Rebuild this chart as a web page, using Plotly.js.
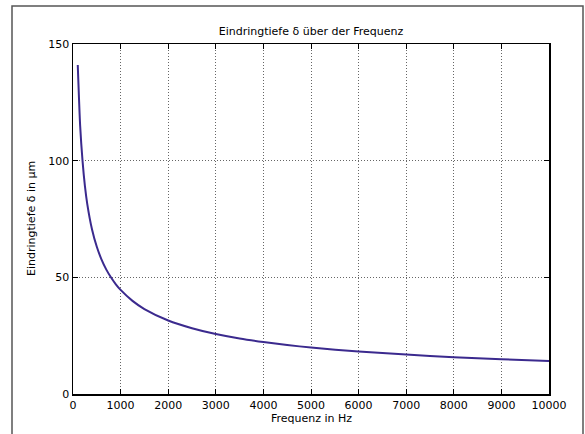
<!DOCTYPE html>
<html>
<head>
<meta charset="utf-8">
<script src="https://cdn.plot.ly/plotly-3.0.1.min.js"></script>
<style>html,body{margin:0;padding:0;background:#fff;}#chart{width:585px;height:434px;}</style>
</head>
<body>
<div id="chart"></div>
<script>
const freqHz = [100, 150, 200, 250, 300, 400, 500, 600, 700, 800, 900, 1000, 1250, 1500, 2000, 2500, 3000, 3500, 4000, 4500, 5000, 6000, 7000, 8000, 9000, 10000];
const depthUm = [141, 115, 100, 89.2, 81.4, 70.5, 63.1, 57.6, 53.3, 49.9, 47.0, 44.6, 39.9, 36.4, 31.5, 28.2, 25.7, 23.8, 22.3, 21.0, 19.9, 18.2, 16.9, 15.8, 14.9, 14.1];
const xTicks = [0, 1000, 2000, 3000, 4000, 5000, 6000, 7000, 8000, 9000, 10000];
const yTicks = [0, 50, 100, 150];

const W = 476, H = 350, L = 73, T = 44, B = 40;
const px = v => (v - L) / W;
const py = v => (434 - B - v) / H;
const FONT = 'DejaVu Sans, sans-serif';

const trace = {
  x: freqHz, y: depthUm, type: 'scatter', mode: 'lines',
  line: {color: '#3b2a8e', width: 2, shape: 'spline', smoothing: 0.6},
  hoverinfo: 'skip'
};
const axisCommon = {
  showline: true, linecolor: '#000', linewidth: 1.5, mirror: 'ticks',
  ticks: 'inside', ticklen: 5, tickcolor: '#000', tickwidth: 1,
  showgrid: true, gridcolor: '#666', griddash: '1px,2px', gridwidth: 1,
  zeroline: false, tickfont: {family: FONT, size: 11, color: '#000'}
};
const layout = {
  width: 585, height: 434,
  margin: {l: L, r: 585 - L - W, t: T, b: B},
  paper_bgcolor: '#fff', plot_bgcolor: '#fff',
  showlegend: false,
  font: {family: FONT, size: 11, color: '#000'},
  title: {text: 'Eindringtiefe δ über der Frequenz', x: 0.5 , xref: 'paper', xanchor: 'center', y: 1 - 31/434, yanchor: 'middle', font: {size: 11}},
  xaxis: Object.assign({}, axisCommon, {range: [0, 10000], tickvals: xTicks, ticktext: xTicks.map(String)}),
  yaxis: Object.assign({}, axisCommon, {range: [0, 150], tickvals: yTicks, ticktext: yTicks.map(String)}),
  annotations: [
    {text: 'Frequenz in Hz', xref: 'paper', yref: 'paper', x: 0.5, y: py(418), xanchor: 'center', yanchor: 'middle', showarrow: false, font: {size: 11}},
    {text: 'Eindringtiefe δ in μm', xref: 'paper', yref: 'paper', x: px(31), y: 0.5, xanchor: 'center', yanchor: 'middle', textangle: -90, showarrow: false, font: {size: 11}}
  ],
  shapes: [{type: 'rect', xref: 'paper', yref: 'paper', x0: px(12), x1: px(583), y0: py(6), y1: py(445),
    line: {color: '#555', width: 1.5}, fillcolor: 'rgba(0,0,0,0)', layer: 'below'}]
};
Plotly.newPlot('chart', [trace], layout, {displayModeBar: false, staticPlot: true});
</script>
</body>
</html>
